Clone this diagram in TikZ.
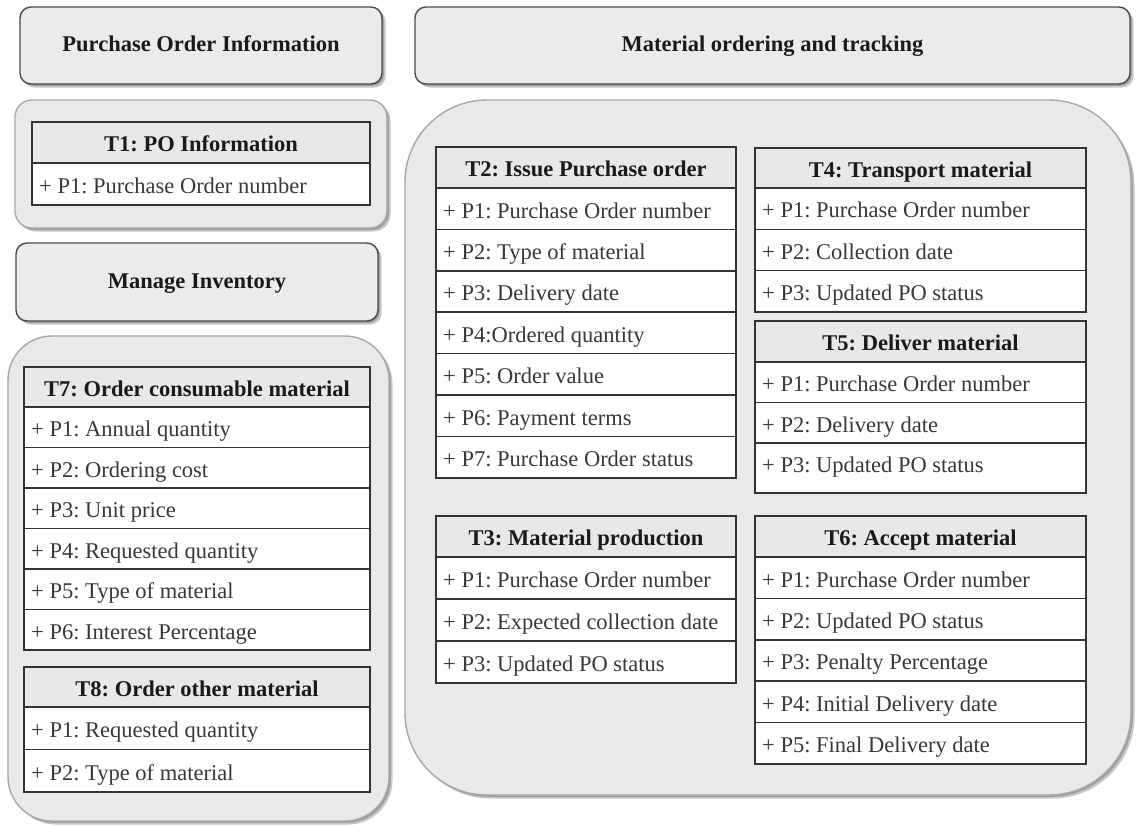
\documentclass[tikz,border=0pt]{standalone}
\usepackage{fontspec}
\setmainfont{Liberation Serif}
\frenchspacing
\definecolor{contfill}{HTML}{E9E9E9}
\definecolor{contline}{HTML}{A8A8A8}
\definecolor{boxfill}{HTML}{EBEBEB}
\definecolor{boxline}{HTML}{4A4A4A}
\definecolor{hdrfill}{HTML}{E8E8E8}
\definecolor{tblline}{HTML}{333333}
\definecolor{txtcol}{HTML}{1A1A1A}
\definecolor{rowcol}{HTML}{383838}
\tikzset{
  titletext/.style={font=\fontsize{22.5}{26}\selectfont\bfseries, text=txtcol, inner sep=0pt, text height=0.66em, text depth=0pt, anchor=center, yshift=-6pt},
  boxtitle/.style={font=\fontsize{22.5}{26}\selectfont\bfseries, text=txtcol, inner sep=0pt, text height=0.66em, text depth=0pt, anchor=center, yshift=-3pt},
  rowtext/.style={font=\fontsize{22.5}{26}\selectfont, text=rowcol, inner sep=0pt, text height=0.66em, text depth=0pt, anchor=west, yshift=-6pt},
  rowline/.style={draw=tblline, line width=1.6pt},
  tableframe/.style={draw=tblline, line width=1.6pt},
  headbox/.style={draw=boxline, fill=boxfill, line width=1.4pt, rounded corners=11pt},
  container/.style={draw=contline, fill=contfill, line width=1.4pt},
  shadowA/.style={fill=black!22},
  shadowB/.style={fill=black!38},
}
\newcommand\umltable[9]{%
  \fill[white] (#2,#3) rectangle ({#2+#4},#7);
  \fill[hdrfill] (#2,#3) rectangle ({#2+#4},#5);
  \node[titletext] (#1) at ({#2+#4/2},{(#3+#5)/2}) {#8};
  \foreach \rowtxt [count=\i] in {#9} {
    \pgfmathsetmacro\ry{#5+(\i-1)*#6}
    \draw[rowline] (#2,\ry) -- ({#2+#4},\ry);
    \node[rowtext] (#1p\i) at ({#2+7},{\ry+#6/2}) {\rowtxt};
  }
  \draw[tableframe] (#2,#3) rectangle ({#2+#4},#7);
}
\newcommand\shadowed[6]{% style, x1, y1, x2, y2, radius
  \fill[shadowA, rounded corners=#6] ({#2+3.5},{#3+3.5}) rectangle ({#4+3.5},{#5+3.5});
  \fill[shadowB, rounded corners=#6] ({#2+1.8},{#3+1.8}) rectangle ({#4+1.8},{#5+1.8});
  \path[#1, rounded corners=#6] (#2,#3) rectangle (#4,#5);
}
\begin{document}
\begin{tikzpicture}[x=1pt,y=-1pt]
\useasboundingbox[fill=white] (0,0) rectangle (1137,825);

% ---- left column ----
\shadowed{headbox}{20}{7}{382}{84}{11pt}
\node[boxtitle] (poinfo) at (201,45.5) {Purchase Order Information};

\shadowed{container}{15}{100}{387}{228}{17pt}
\umltable{t1}{32}{122}{338}{163}{42}{205}{T1: PO Information}{+ P1: Purchase Order number}

\shadowed{headbox}{16}{243}{378}{321}{11pt}
\node[boxtitle] (maninv) at (197,282) {Manage Inventory};

\shadowed{container}{8}{336}{389}{821}{44pt}
\umltable{t7}{24}{367}{346}{407}{40.5}{650}{T7: Order consumable material}{+ P1: Annual quantity,+ P2: Ordering cost,+ P3: Unit price,+ P4: Requested quantity,+ P5: Type of material,+ P6: Interest Percentage}
\umltable{t8}{24}{667}{346}{707}{42.5}{792}{T8: Order other material}{+ P1: Requested quantity,+ P2: Type of material}

% ---- right column ----
\shadowed{headbox}{415}{7}{1130}{84}{11pt}
\node[boxtitle] (mot) at (772.5,45.5) {Material ordering and tracking};

\shadowed{container}{405}{100}{1131}{795}{82pt}
\umltable{t2}{436}{147}{300}{188}{41.4}{478}{T2: Issue Purchase order}{+ P1: Purchase Order number,+ P2: Type of material,+ P3: Delivery date,+ P4:Ordered quantity,+ P5: Order value,+ P6: Payment terms,+ P7: Purchase Order status}
\umltable{t4}{755}{148}{331}{188}{41.3}{312}{T4: Transport material}{+ P1: Purchase Order number,+ P2: Collection date,+ P3: Updated PO status}
\umltable{t5}{755}{321}{331}{362}{40.5}{493}{T5: Deliver material}{+ P1: Purchase Order number,+ P2: Delivery date,+ P3: Updated PO status}
\umltable{t3}{436}{516}{300}{557}{42}{683}{T3: Material production}{+ P1: Purchase Order number,+ P2: Expected collection date,+ P3: Updated PO status}
\umltable{t6}{755}{516}{331}{557}{41.4}{764}{T6: Accept material}{+ P1: Purchase Order number,+ P2: Updated PO status,+ P3: Penalty Percentage,+ P4: Initial Delivery date,+ P5: Final Delivery date}
\end{tikzpicture}
\end{document}
